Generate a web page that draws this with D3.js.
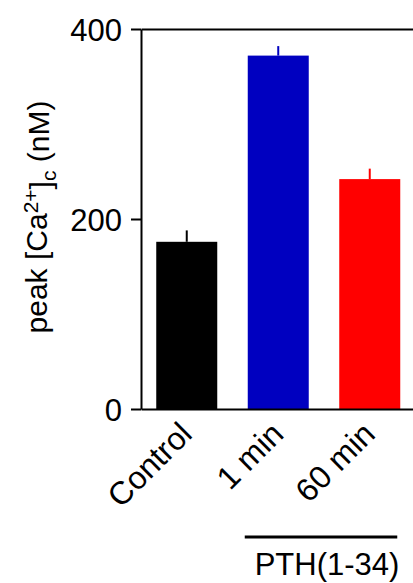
<!DOCTYPE html>
<html>
<head>
<meta charset="utf-8">
<script src="https://cdn.jsdelivr.net/npm/d3@7"></script>
<style>
  body { margin: 0; background: #fff; }
  text { font-family: "Liberation Sans", Arial, Helvetica, sans-serif; fill: #000; }
</style>
</head>
<body>
<svg id="chart" width="413" height="583"></svg>
<script>
// Peak cytosolic calcium after PTH(1-34) treatment
const categories = ["Control", "1 min", "60 min"];
const means = [176, 372, 242];
const sem = [12, 10, 11];
const barColors = ["#000000", "#0000C0", "#FF0000"];
const yTicks = [0, 200, 400];
const groupLabel = "PTH(1-34)";
const groupMembers = ["1 min", "60 min"];

const svg = d3.select("#chart");

const plot = { left: 141, right: 415.5, top: 29, bottom: 409 };

const x = d3.scaleBand()
  .domain(categories)
  .range([plot.left, plot.right])
  .paddingInner(1 / 3)
  .paddingOuter(1 / 6);

const y = d3.scaleLinear()
  .domain([0, 400])
  .range([plot.bottom, plot.top]);

// bars
svg.append("g").selectAll("rect")
  .data(categories)
  .join("rect")
  .attr("x", d => x(d))
  .attr("width", x.bandwidth())
  .attr("y", (d, i) => y(means[i]))
  .attr("height", (d, i) => y(0) - y(means[i]))
  .attr("fill", (d, i) => barColors[i]);

// upper error whiskers
svg.append("g").selectAll("line")
  .data(categories)
  .join("line")
  .attr("x1", d => x(d) + x.bandwidth() / 2)
  .attr("x2", d => x(d) + x.bandwidth() / 2)
  .attr("y1", (d, i) => y(means[i]))
  .attr("y2", (d, i) => y(means[i] + sem[i]))
  .attr("stroke", (d, i) => barColors[i])
  .attr("stroke-width", 2);

// y axis
const yAxis = svg.append("g")
  .attr("transform", `translate(${plot.left},0)`)
  .call(d3.axisLeft(y).tickValues(yTicks).tickSize(10).tickSizeOuter(0).tickPadding(9));
yAxis.selectAll("path, line").attr("stroke", "#000").attr("stroke-width", 2);
yAxis.selectAll("text").style("font-size", "31px").attr("dy", "0.36em");

// x axis (baseline) and top frame line
const xAxis = svg.append("g")
  .attr("transform", `translate(0,${plot.bottom})`)
  .call(d3.axisBottom(x).tickSize(0).tickSizeOuter(0).tickFormat(""));
xAxis.select("path").attr("stroke", "#000").attr("stroke-width", 2);

const topAxis = svg.append("g")
  .attr("transform", `translate(0,${plot.top})`)
  .call(d3.axisTop(x).tickSize(0).tickSizeOuter(0).tickFormat(""));
topAxis.select("path").attr("stroke", "#000").attr("stroke-width", 2);

// rotated category labels
svg.append("g").selectAll("text")
  .data(categories)
  .join("text")
  .attr("text-anchor", "end")
  .style("font-size", "32px")
  .attr("transform", d => `translate(${x(d) + x.bandwidth() / 2 + 7},${plot.bottom + 27}) rotate(-45)`)
  .text(d => d);

// y axis title with superscript / subscript
const yTitle = svg.append("text")
  .attr("text-anchor", "middle")
  .style("font-size", "30px")
  .attr("transform", `translate(47,217) rotate(-90)`);
yTitle.append("tspan").text("peak [Ca");
yTitle.append("tspan").attr("dy", "-0.45em").style("font-size", "21px").text("2+");
yTitle.append("tspan").attr("dy", "0.45em").text("]");
yTitle.append("tspan").attr("dy", "0.25em").style("font-size", "21px").text("c");
yTitle.append("tspan").attr("dy", "-0.25em").text(" (nM)");

// treatment group bracket
const gx0 = x(groupMembers[0]) - 3;
const gx1 = x(groupMembers[groupMembers.length - 1]) + x.bandwidth() - 3;
svg.append("line")
  .attr("x1", gx0).attr("x2", gx1)
  .attr("y1", 537).attr("y2", 537)
  .attr("stroke", "#000").attr("stroke-width", 3);
svg.append("text")
  .attr("x", (gx0 + gx1) / 2 + 6)
  .attr("y", 575)
  .attr("text-anchor", "middle")
  .style("font-size", "31px")
  .text(groupLabel);
</script>
</body>
</html>
